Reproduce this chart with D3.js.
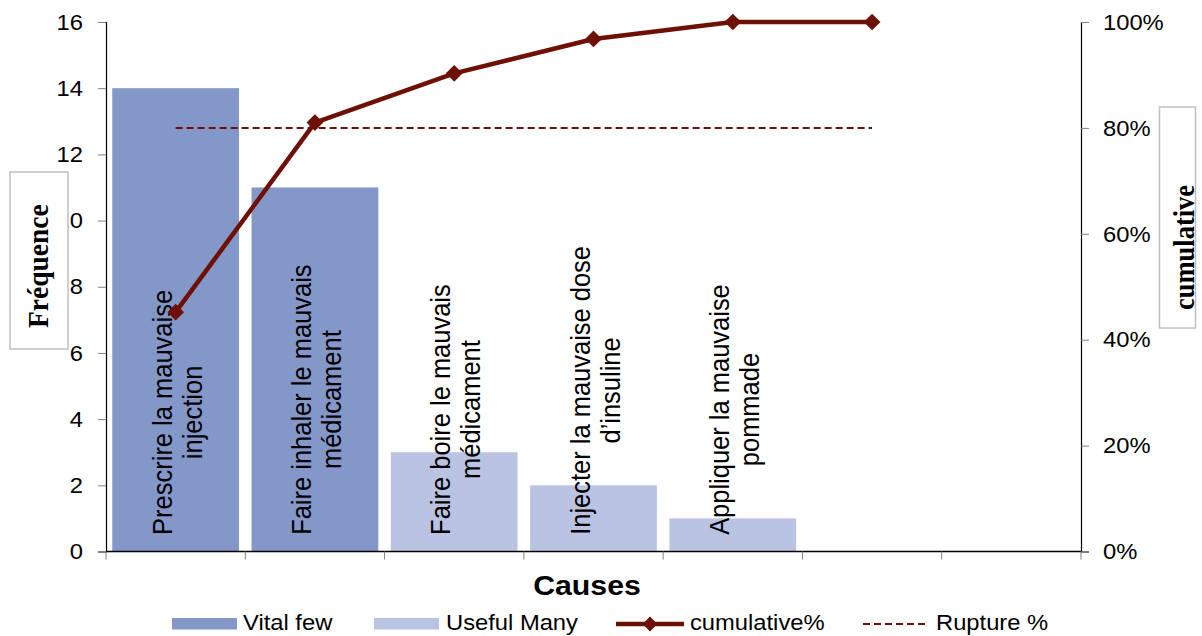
<!DOCTYPE html>
<html>
<head>
<meta charset="utf-8">
<script src="https://cdn.jsdelivr.net/npm/d3@7"></script>
<style>
  html, body { margin: 0; padding: 0; background: #ffffff; }
  svg { display: block; }
</style>
</head>
<body>
<svg id="chart" width="1202" height="636"></svg>
<script>
// ---------------- data ----------------
const categories = [
  "Prescrire la mauvaise\ninjection",
  "Faire inhaler le mauvais\nmédicament",
  "Faire boire le mauvais\nmédicament",
  "Injecter la mauvaise dose\nd’insuline",
  "Appliquer la mauvaise\npommade",
  "",
  ""
];
const frequencies = [14, 11, 3, 2, 1];
const groups = ["Vital few", "Vital few", "Useful Many", "Useful Many", "Useful Many"];
const cumulativePct = [45.2, 81.0, 90.3, 96.8, 100, 100];
const rupturePct = 80;
const leftTicks = [0, 2, 4, 6, 8, 10, 12, 14, 16];
const rightTicks = [0, 20, 40, 60, 80, 100];
const legendLabels = ["Vital few", "Useful Many", "cumulative%", "Rupture %"];

// ---------------- setup ----------------
(function () {
const svg = d3.select("#chart");
const SANS = "'Liberation Sans', Arial, sans-serif";
const SERIF = "'Liberation Serif', 'Times New Roman', serif";
const STRETCH = 1.08;
const colVital = "#8497c9", colUseful = "#bac4e2", colLine = "#6e1006";

const pLeft = 106, pRight = 1081, pTop = 22, pBottom = 551.5;
const x = d3.scaleBand().domain(d3.range(categories.length)).range([pLeft, pRight])
  .paddingInner(0.09).paddingOuter(0.045);
const step = x.step();
const cx = i => x(i) + x.bandwidth() / 2;
const yL = d3.scaleLinear().domain([0, 16]).range([pBottom, pTop]);
const yR = d3.scaleLinear().domain([0, 100]).range([pBottom, pTop]);

function stext(g, str, tx, ty, opts) {
  const t = g.append("text")
    .attr("transform", `translate(${tx},${ty}) scale(${STRETCH},1)` + (opts.rotate ? " rotate(-90)" : ""))
    .attr("font-family", opts.family || SANS)
    .attr("font-size", opts.size)
    .attr("font-weight", opts.weight || "normal")
    .attr("text-anchor", opts.anchor || "start")
    .attr("fill", "#000")
    .text(str);
  if (opts.dy) t.attr("dy", opts.dy);
  return t;
}

// ---------------- bars ----------------
svg.append("g").selectAll("rect").data(frequencies).join("rect")
  .attr("x", (d, i) => x(i))
  .attr("y", d => yL(d))
  .attr("width", x.bandwidth())
  .attr("height", d => yL(0) - yL(d))
  .attr("fill", (d, i) => groups[i] === "Vital few" ? colVital : colUseful);

// ---------------- category labels ----------------
const labG = svg.append("g");
categories.forEach((c, i) => {
  if (!c) return;
  const lines = c.split("\n");
  const lens = lines.map(l => {
    const t = svg.append("text").attr("font-family", SANS).attr("font-size", 25.5).text(l);
    const w = t.node().getComputedTextLength();
    t.remove();
    return w;
  });
  const maxLen = d3.max(lens);
  const midY = 535 - maxLen / 2;
  lines.forEach((l, j) => {
    stext(labG, l, cx(i) - 4 + j * 30, midY, { size: 25.5, anchor: "middle", rotate: true });
  });
});

// ---------------- axes ----------------
const axG = svg.append("g");
axG.append("g").attr("transform", `translate(${pLeft},0)`)
  .call(d3.axisLeft(yL).tickValues(leftTicks).tickSize(8).tickFormat(""))
  .call(g => g.select(".domain").attr("stroke", "#000").attr("stroke-width", 1.2))
  .call(g => g.selectAll(".tick line").attr("stroke", "#808080"));
axG.append("g").attr("transform", `translate(${pRight},0)`)
  .call(d3.axisRight(yR).tickValues(rightTicks).tickSize(8).tickFormat(""))
  .call(g => g.select(".domain").attr("stroke", "#000").attr("stroke-width", 1.2))
  .call(g => g.selectAll(".tick line").attr("stroke", "#808080"));
const boundaries = d3.range(categories.length + 1).map(i => pLeft + i * step);
axG.append("line").attr("x1", pLeft).attr("x2", pRight).attr("y1", pBottom).attr("y2", pBottom)
  .attr("stroke", "#000").attr("stroke-width", 1.5);
axG.selectAll(".btick").data(boundaries).join("line").attr("class", "btick")
  .attr("x1", d => d).attr("x2", d => d).attr("y1", pBottom).attr("y2", pBottom + 8)
  .attr("stroke", "#808080").attr("stroke-width", 1);

leftTicks.forEach(v => stext(axG, String(v), 83, yL(v), { size: 22, anchor: "end", dy: "0.35em" }));
rightTicks.forEach(v => stext(axG, v + "%", 1103, yR(v), { size: 22, anchor: "start", dy: "0.35em" }));

// ---------------- rupture line ----------------
svg.append("line")
  .attr("x1", cx(0)).attr("x2", cx(cumulativePct.length - 1))
  .attr("y1", yR(rupturePct)).attr("y2", yR(rupturePct))
  .attr("stroke", colLine).attr("stroke-width", 2).attr("stroke-dasharray", "7,4");

// ---------------- cumulative line ----------------
const lineGen = d3.line().x((d, i) => cx(i)).y(d => yR(d));
svg.append("path").datum(cumulativePct).attr("d", lineGen)
  .attr("fill", "none").attr("stroke", colLine).attr("stroke-width", 4.5).attr("stroke-linejoin", "round");
const diamond = d3.symbol().type(d3.symbolSquare).size(140);
svg.append("g").selectAll("path").data(cumulativePct).join("path")
  .attr("d", diamond)
  .attr("transform", (d, i) => `translate(${cx(i)},${yR(d)}) rotate(45)`)
  .attr("fill", colLine);

// ---------------- axis titles ----------------
stext(svg, "Causes", 587, 595, { size: 28, weight: "bold", anchor: "middle" });

svg.append("rect").attr("x", 10).attr("y", 172).attr("width", 58).attr("height", 177)
  .attr("fill", "#fff").attr("stroke", "#c0c0c0").attr("stroke-width", 1.5);
stext(svg, "Fréquence", 48, 328, { size: 27.5, weight: "bold", family: SERIF, rotate: true });

svg.append("rect").attr("x", 1159.5).attr("y", 107).attr("width", 36).attr("height", 221)
  .attr("fill", "#fff").attr("stroke", "#c0c0c0").attr("stroke-width", 1.5);
stext(svg, "cumulative", 1194, 310, { size: 26.5, weight: "bold", family: SERIF, rotate: true });

// ---------------- legend ----------------
const lg = svg.append("g");
const ly = 624;
lg.append("rect").attr("x", 172).attr("y", ly - 6).attr("width", 65).attr("height", 11.5).attr("fill", colVital);
stext(lg, legendLabels[0], 243, 630, { size: 22 });
lg.append("rect").attr("x", 374).attr("y", ly - 6).attr("width", 65).attr("height", 11.5).attr("fill", colUseful);
stext(lg, legendLabels[1], 446, 630, { size: 22 });
lg.append("line").attr("x1", 616).attr("x2", 684).attr("y1", ly).attr("y2", ly)
  .attr("stroke", colLine).attr("stroke-width", 4.5);
lg.append("path").attr("d", d3.symbol().type(d3.symbolSquare).size(110))
  .attr("transform", `translate(650,${ly}) rotate(45)`).attr("fill", colLine);
stext(lg, legendLabels[2], 690, 630, { size: 22 });
lg.append("line").attr("x1", 863).attr("x2", 929).attr("y1", ly).attr("y2", ly)
  .attr("stroke", colLine).attr("stroke-width", 2).attr("stroke-dasharray", "7,4");
stext(lg, legendLabels[3], 936, 630, { size: 22 });
})();
</script>
</body>
</html>
